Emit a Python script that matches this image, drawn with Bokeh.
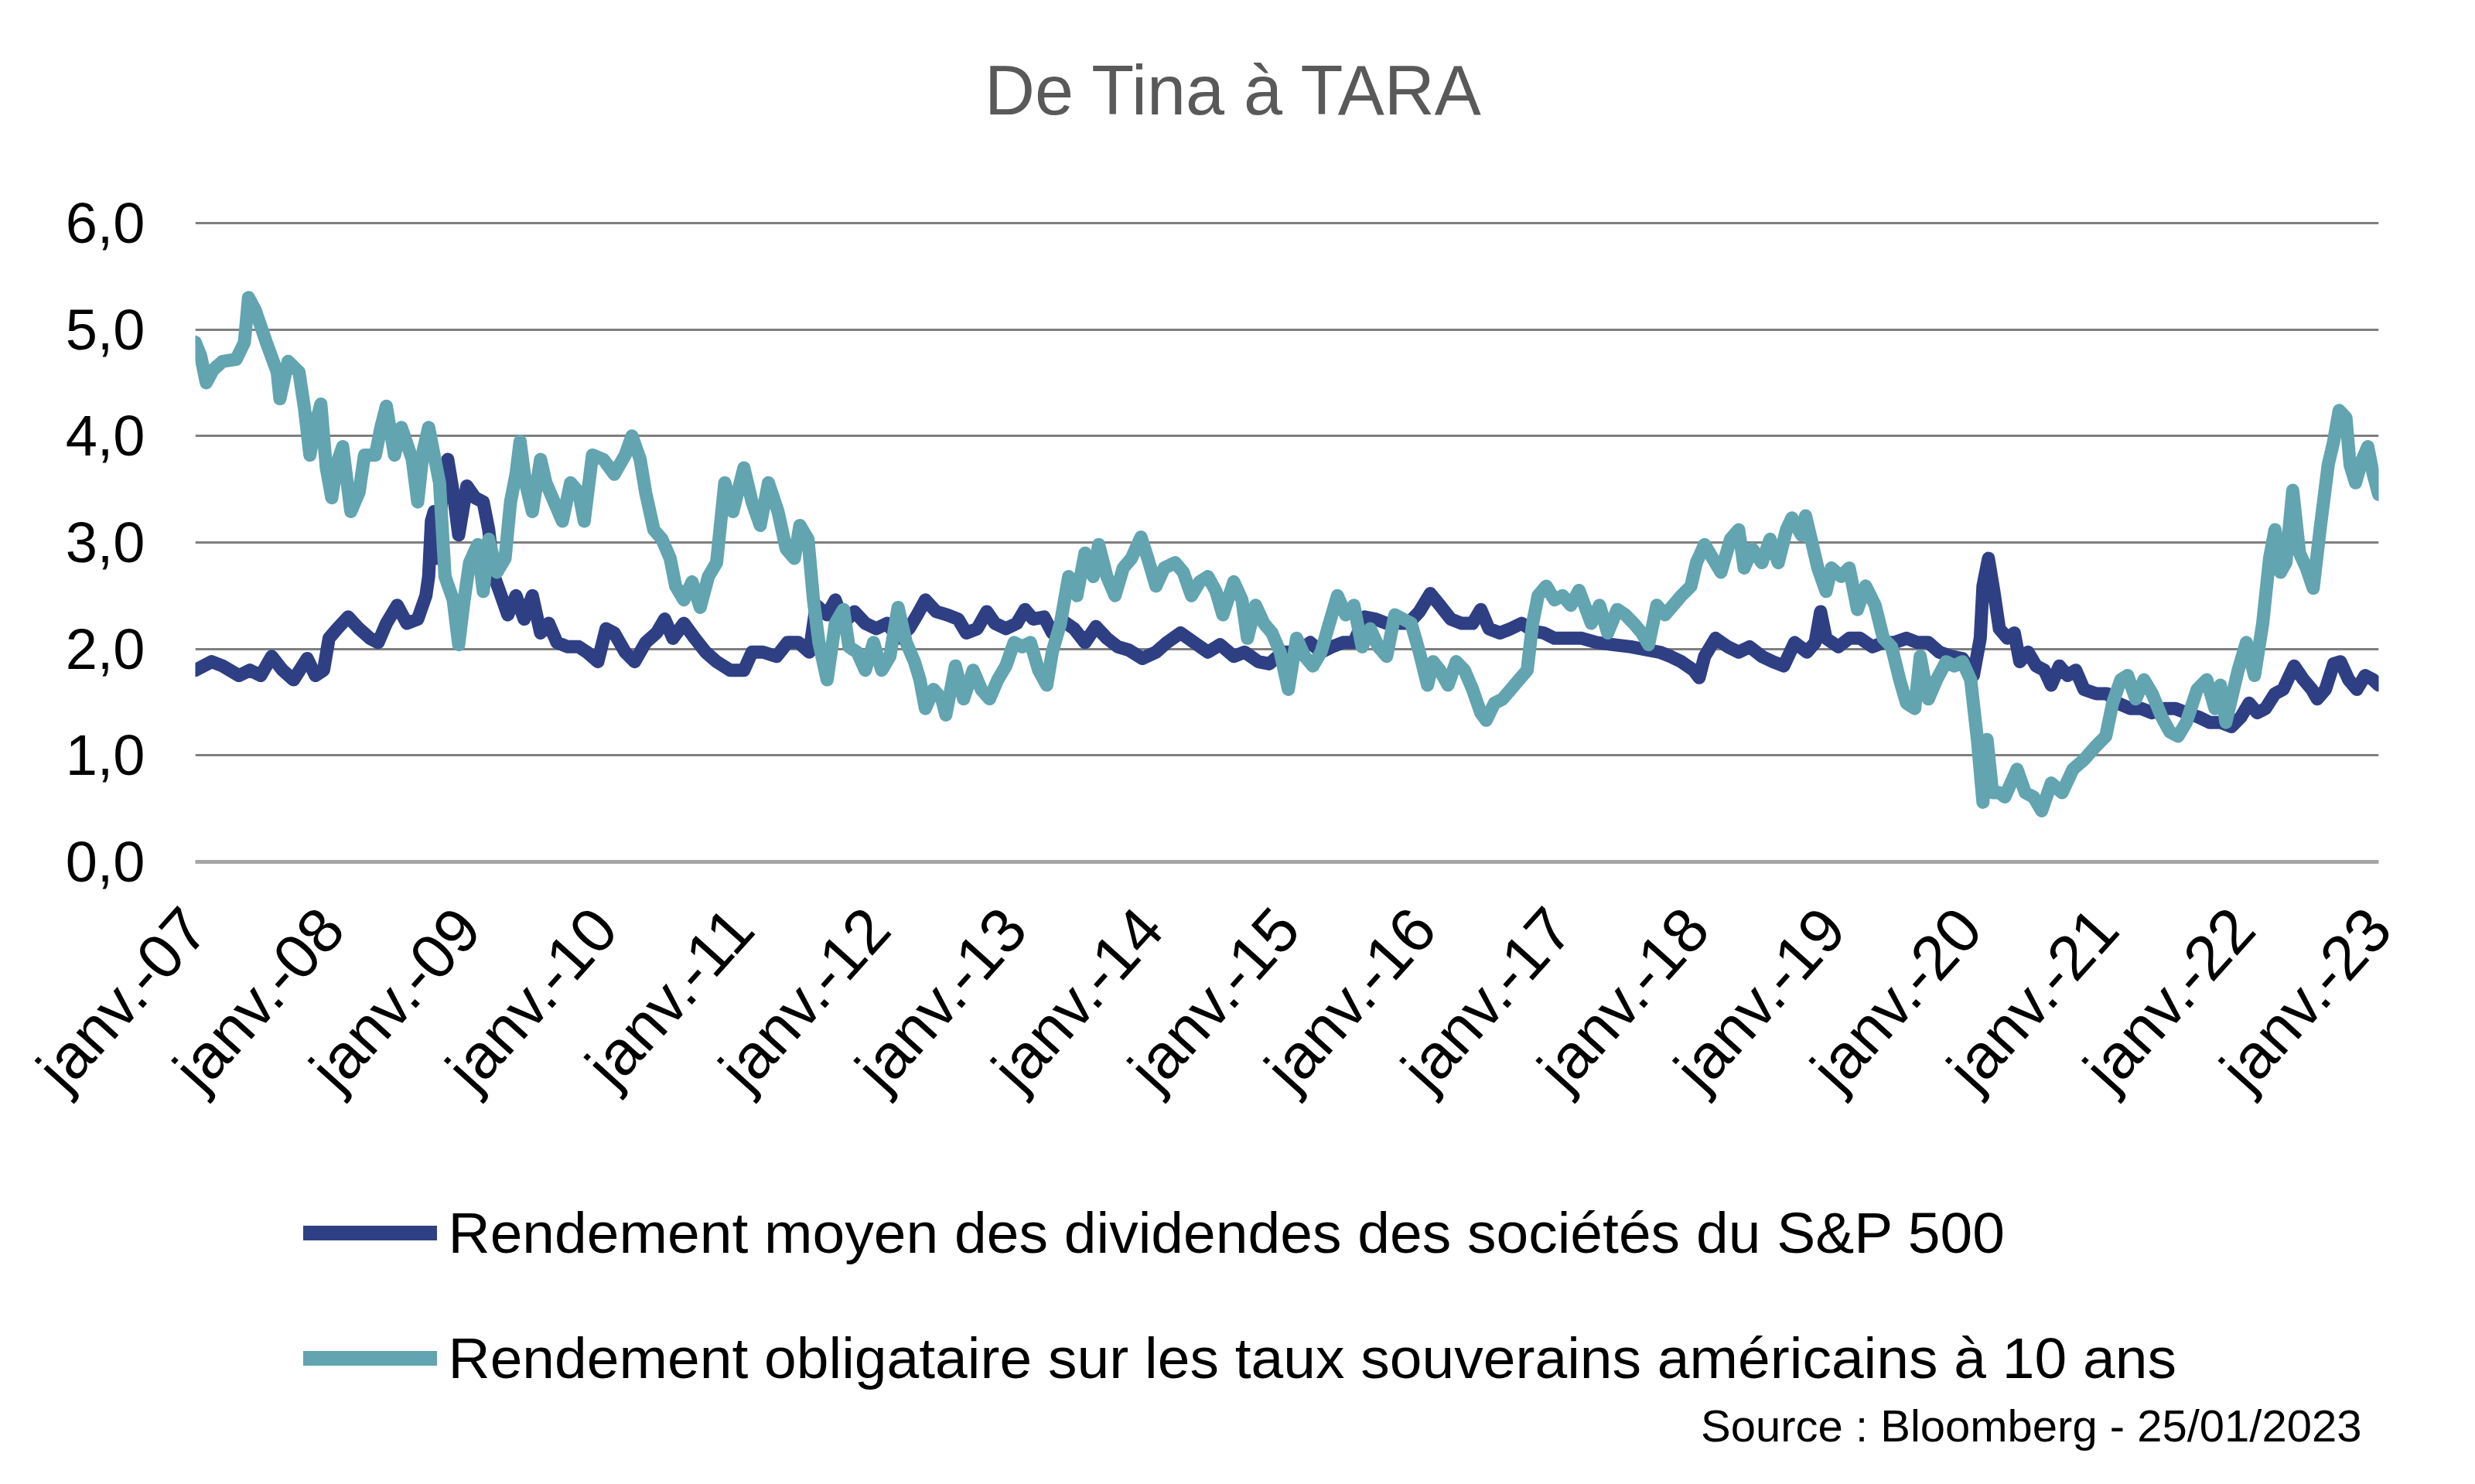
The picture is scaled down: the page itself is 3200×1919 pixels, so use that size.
import math
from bokeh.plotting import figure
from bokeh.layouts import column
from bokeh.models import (Range1d, FixedTicker, Label, Legend, LegendItem)
from bokeh.embed import file_html
from bokeh.resources import INLINE

# ---------------- data ----------------
title_text = "De Tina à TARA"
source_text = "Source : Bloomberg - 25/01/2023"
series_names = ["Rendement moyen des dividendes des sociétés du S&P 500",
                "Rendement obligataire sur les taux souverains américains à 10 ans"]
series_colors = ["#2F3F84", "#62A4B0"]

x_ticks = list(range(2007, 2024))
x_tick_labels = ["janv.-%02d" % (y % 100) for y in x_ticks]
y_ticks = [0, 1, 2, 3, 4, 5, 6]
y_tick_labels = ["0,0", "1,0", "2,0", "3,0", "4,0", "5,0", "6,0"]

# S&P 500 dividend yield (decimal years, %)
div_t = [2007.00, 2007.12, 2007.20, 2007.32, 2007.40, 2007.48, 2007.56, 2007.64, 2007.72, 2007.82,
         2007.88, 2007.94, 2007.98, 2008.04, 2008.12, 2008.20, 2008.28, 2008.34, 2008.40, 2008.48,
         2008.55, 2008.63, 2008.69, 2008.71, 2008.73, 2008.75, 2008.77, 2008.81, 2008.85, 2008.89,
         2008.93, 2008.99, 2009.05, 2009.11, 2009.15, 2009.19, 2009.23, 2009.29, 2009.35, 2009.41,
         2009.47, 2009.53, 2009.59, 2009.65, 2009.73, 2009.81, 2009.87, 2009.95, 2010.01, 2010.07,
         2010.15, 2010.22, 2010.30, 2010.38, 2010.44, 2010.50, 2010.58, 2010.66, 2010.74, 2010.82,
         2010.92, 2011.02, 2011.08, 2011.16, 2011.26, 2011.34, 2011.42, 2011.50, 2011.55, 2011.63,
         2011.69, 2011.75, 2011.83, 2011.91, 2011.99, 2012.07, 2012.15, 2012.23, 2012.29, 2012.35,
         2012.43, 2012.51, 2012.59, 2012.65, 2012.73, 2012.80, 2012.86, 2012.94, 2013.02, 2013.08,
         2013.14, 2013.22, 2013.28, 2013.36, 2013.44, 2013.52, 2013.60, 2013.68, 2013.76, 2013.84,
         2013.94, 2014.04, 2014.12, 2014.22, 2014.32, 2014.42, 2014.51, 2014.61, 2014.69, 2014.79,
         2014.87, 2014.97, 2015.07, 2015.17, 2015.25, 2015.33, 2015.41, 2015.49, 2015.57, 2015.65,
         2015.73, 2015.81, 2015.89, 2015.97, 2016.05, 2016.12, 2016.20, 2016.28, 2016.36, 2016.42,
         2016.48, 2016.56, 2016.64, 2016.72, 2016.80, 2016.88, 2016.96, 2017.04, 2017.16, 2017.27,
         2017.39, 2017.52, 2017.64, 2017.73, 2017.81, 2017.89, 2017.98, 2018.02, 2018.06, 2018.14,
         2018.23, 2018.31, 2018.39, 2018.48, 2018.56, 2018.64, 2018.72, 2018.81, 2018.87, 2018.91,
         2018.95, 2019.04, 2019.12, 2019.20, 2019.29, 2019.37, 2019.45, 2019.54, 2019.62, 2019.70,
         2019.78, 2019.87, 2019.95, 2020.03, 2020.08, 2020.10, 2020.14, 2020.18, 2020.22, 2020.28,
         2020.33, 2020.37, 2020.43, 2020.49, 2020.55, 2020.60, 2020.66, 2020.72, 2020.78, 2020.84,
         2020.93, 2021.01, 2021.09, 2021.18, 2021.26, 2021.34, 2021.43, 2021.51, 2021.59, 2021.68,
         2021.76, 2021.84, 2021.92, 2021.99, 2022.05, 2022.11, 2022.17, 2022.24, 2022.30, 2022.38,
         2022.45, 2022.51, 2022.55, 2022.61, 2022.67, 2022.72, 2022.78, 2022.84, 2022.90, 2022.96,
         2023.00]
div_v = [1.80, 1.88, 1.84, 1.75, 1.80, 1.75, 1.93, 1.80, 1.71, 1.91,
         1.75, 1.80, 2.10, 2.19, 2.30, 2.19, 2.10, 2.06, 2.24, 2.41,
         2.24, 2.28, 2.50, 2.68, 3.20, 3.29, 2.85, 3.47, 3.78, 3.47,
         3.07, 3.53, 3.42, 3.38, 3.12, 2.68, 2.54, 2.32, 2.50, 2.28,
         2.50, 2.15, 2.24, 2.06, 2.02, 2.02, 1.97, 1.88, 2.19, 2.15,
         1.97, 1.88, 2.06, 2.15, 2.28, 2.10, 2.24, 2.10, 1.97, 1.88,
         1.80, 1.80, 1.97, 1.97, 1.93, 2.06, 2.06, 1.97, 2.41, 2.32,
         2.46, 2.24, 2.35, 2.24, 2.19, 2.24, 2.10, 2.19, 2.32, 2.46,
         2.35, 2.32, 2.28, 2.15, 2.19, 2.35, 2.24, 2.19, 2.24, 2.37,
         2.28, 2.30, 2.15, 2.26, 2.19, 2.06, 2.21, 2.10, 2.02, 1.99,
         1.91, 1.97, 2.06, 2.15, 2.06, 1.97, 2.04, 1.93, 1.97, 1.88,
         1.86, 1.97, 1.97, 2.06, 1.97, 2.02, 2.06, 2.06, 2.30, 2.28,
         2.24, 2.24, 2.24, 2.35, 2.52, 2.41, 2.28, 2.24, 2.24, 2.37,
         2.19, 2.15, 2.19, 2.24, 2.17, 2.15, 2.10, 2.10, 2.10, 2.06,
         2.04, 2.02, 1.99, 1.97, 1.93, 1.88, 1.80, 1.73, 1.93, 2.10,
         2.02, 1.97, 2.02, 1.93, 1.88, 1.84, 2.06, 1.97, 2.06, 2.35,
         2.10, 2.02, 2.10, 2.10, 2.02, 2.06, 2.06, 2.10, 2.06, 2.06,
         1.97, 1.93, 1.91, 1.75, 2.10, 2.59, 2.85, 2.54, 2.19, 2.10,
         2.15, 1.88, 1.97, 1.84, 1.80, 1.66, 1.84, 1.75, 1.80, 1.62,
         1.58, 1.58, 1.49, 1.44, 1.44, 1.40, 1.44, 1.44, 1.40, 1.36,
         1.31, 1.31, 1.27, 1.36, 1.49, 1.40, 1.44, 1.58, 1.62, 1.84,
         1.71, 1.62, 1.53, 1.62, 1.86, 1.88, 1.71, 1.62, 1.75, 1.71,
         1.66]

# US 10-year Treasury yield (decimal years, %)
ust_t = [2007.00, 2007.04, 2007.08, 2007.13, 2007.20, 2007.30, 2007.36, 2007.39, 2007.44, 2007.52,
         2007.60, 2007.62, 2007.68, 2007.76, 2007.80, 2007.84, 2007.88, 2007.92, 2007.96, 2008.00,
         2008.04, 2008.08, 2008.14, 2008.20, 2008.24, 2008.32, 2008.36, 2008.40, 2008.46, 2008.51,
         2008.59, 2008.63, 2008.67, 2008.71, 2008.75, 2008.79, 2008.83, 2008.89, 2008.93, 2008.97,
         2009.01, 2009.07, 2009.11, 2009.15, 2009.21, 2009.27, 2009.31, 2009.35, 2009.38, 2009.42,
         2009.47, 2009.53, 2009.57, 2009.63, 2009.69, 2009.75, 2009.81, 2009.85, 2009.91, 2009.99,
         2010.07, 2010.15, 2010.20, 2010.26, 2010.30, 2010.36, 2010.42, 2010.48, 2010.52, 2010.58,
         2010.64, 2010.70, 2010.76, 2010.82, 2010.88, 2010.94, 2011.02, 2011.08, 2011.14, 2011.20,
         2011.27, 2011.33, 2011.39, 2011.43, 2011.49, 2011.53, 2011.57, 2011.63, 2011.69, 2011.75,
         2011.79, 2011.85, 2011.91, 2011.97, 2012.03, 2012.09, 2012.15, 2012.21, 2012.27, 2012.31,
         2012.35, 2012.41, 2012.47, 2012.50, 2012.57, 2012.63, 2012.70, 2012.76, 2012.82, 2012.88,
         2012.94, 2013.00, 2013.06, 2013.12, 2013.18, 2013.24, 2013.28, 2013.34, 2013.40, 2013.46,
         2013.52, 2013.58, 2013.62, 2013.68, 2013.74, 2013.80, 2013.86, 2013.93, 2013.98, 2014.04,
         2014.10, 2014.18, 2014.24, 2014.30, 2014.36, 2014.42, 2014.48, 2014.53, 2014.61, 2014.67,
         2014.71, 2014.77, 2014.83, 2014.89, 2014.95, 2015.01, 2015.07, 2015.13, 2015.19, 2015.25,
         2015.31, 2015.37, 2015.43, 2015.49, 2015.55, 2015.61, 2015.67, 2015.73, 2015.79, 2015.85,
         2015.91, 2015.97, 2016.03, 2016.07, 2016.12, 2016.18, 2016.24, 2016.30, 2016.36, 2016.42,
         2016.46, 2016.52, 2016.58, 2016.64, 2016.70, 2016.76, 2016.80, 2016.84, 2016.90, 2016.96,
         2017.02, 2017.08, 2017.14, 2017.23, 2017.29, 2017.35, 2017.42, 2017.48, 2017.54, 2017.60,
         2017.65, 2017.71, 2017.77, 2017.83, 2017.89, 2017.96, 2018.00, 2018.06, 2018.12, 2018.18,
         2018.25, 2018.31, 2018.35, 2018.41, 2018.48, 2018.54, 2018.60, 2018.66, 2018.70, 2018.77,
         2018.80, 2018.85, 2018.89, 2018.95, 2018.99, 2019.06, 2019.12, 2019.18, 2019.24, 2019.31,
         2019.37, 2019.43, 2019.49, 2019.54, 2019.60, 2019.64, 2019.70, 2019.76, 2019.83, 2019.89,
         2019.95, 2020.01, 2020.06, 2020.10, 2020.13, 2020.17, 2020.22, 2020.26, 2020.35, 2020.41,
         2020.47, 2020.53, 2020.60, 2020.68, 2020.76, 2020.84, 2020.93, 2021.00, 2021.05, 2021.11,
         2021.16, 2021.22, 2021.28, 2021.34, 2021.41, 2021.47, 2021.53, 2021.59, 2021.67, 2021.74,
         2021.80, 2021.84, 2021.88, 2021.97, 2022.03, 2022.09, 2022.15, 2022.20, 2022.24, 2022.28,
         2022.32, 2022.37, 2022.42, 2022.47, 2022.52, 2022.57, 2022.63, 2022.67, 2022.71, 2022.76,
         2022.79, 2022.83, 2022.88, 2022.92, 2022.96, 2023.00]
ust_v = [4.88, 4.75, 4.50, 4.62, 4.70, 4.72, 4.88, 5.30, 5.18, 4.88,
         4.60, 4.35, 4.70, 4.60, 4.26, 3.82, 4.10, 4.30, 3.70, 3.42,
         3.75, 3.90, 3.29, 3.47, 3.82, 3.82, 4.08, 4.28, 3.82, 4.08,
         3.78, 3.38, 3.86, 4.08, 3.82, 3.56, 2.68, 2.46, 2.04, 2.46,
         2.81, 2.98, 2.54, 3.03, 2.72, 2.85, 3.38, 3.64, 3.95, 3.56,
         3.29, 3.78, 3.56, 3.38, 3.20, 3.56, 3.47, 3.20, 3.82, 3.78,
         3.64, 3.82, 4.00, 3.78, 3.47, 3.12, 3.03, 2.85, 2.59, 2.46,
         2.63, 2.39, 2.68, 2.81, 3.56, 3.29, 3.70, 3.38, 3.16, 3.56,
         3.29, 2.94, 2.85, 3.16, 3.03, 2.46, 2.06, 1.71, 2.24, 2.37,
         2.02, 1.97, 1.80, 2.06, 1.80, 1.93, 2.39, 2.06, 1.88, 1.71,
         1.44, 1.62, 1.53, 1.38, 1.84, 1.53, 1.80, 1.62, 1.53, 1.71,
         1.84, 2.06, 2.02, 2.06, 1.80, 1.66, 1.97, 2.24, 2.68, 2.50,
         2.90, 2.68, 2.98, 2.68, 2.50, 2.76, 2.85, 3.05, 2.85, 2.59,
         2.76, 2.81, 2.72, 2.50, 2.63, 2.68, 2.54, 2.32, 2.63, 2.46,
         2.10, 2.41, 2.24, 2.15, 1.97, 1.62, 2.10, 1.93, 1.84, 1.97,
         2.24, 2.50, 2.32, 2.41, 2.02, 2.19, 2.02, 1.93, 2.32, 2.28,
         2.24, 1.97, 1.66, 1.88, 1.80, 1.66, 1.88, 1.80, 1.62, 1.40,
         1.33, 1.49, 1.53, 1.62, 1.71, 1.80, 2.24, 2.50, 2.59, 2.46,
         2.50, 2.41, 2.55, 2.24, 2.41, 2.15, 2.37, 2.32, 2.24, 2.15,
         2.04, 2.41, 2.32, 2.41, 2.50, 2.59, 2.81, 2.98, 2.85, 2.72,
         3.03, 3.12, 2.76, 2.94, 2.81, 3.03, 2.81, 3.12, 3.23, 3.07,
         3.25, 2.98, 2.76, 2.54, 2.76, 2.68, 2.76, 2.37, 2.59, 2.41,
         2.10, 2.02, 1.71, 1.49, 1.44, 1.93, 1.53, 1.71, 1.88, 1.84,
         1.88, 1.71, 1.14, 0.56, 1.15, 0.65, 0.65, 0.61, 0.87, 0.65,
         0.61, 0.48, 0.74, 0.65, 0.87, 0.96, 1.09, 1.18, 1.49, 1.71,
         1.75, 1.53, 1.71, 1.58, 1.36, 1.22, 1.18, 1.31, 1.62, 1.71,
         1.44, 1.66, 1.31, 1.80, 2.06, 1.75, 2.24, 2.85, 3.12, 2.72,
         2.81, 3.49, 2.90, 2.76, 2.57, 3.12, 3.73, 3.95, 4.24, 4.17,
         3.73, 3.56, 3.78, 3.90, 3.64, 3.45]

FONT = "Liberation Sans"
W = 3184
LEFT, RIGHT = 252, 109          # borders shared by the three stacked figures


def strip(height):
    """A text-only strip whose frame is addressed in figure pixels."""
    s = figure(width=W, height=height, output_backend="svg", toolbar_location=None,
               title=None, x_range=Range1d(LEFT, W - RIGHT), y_range=Range1d(0, height),
               min_border_left=LEFT, min_border_right=RIGHT, min_border_top=0,
               min_border_bottom=0, x_axis_type=None, y_axis_type=None,
               outline_line_color=None, background_fill_color="white",
               border_fill_color="white")
    return s


# ---------------- title strip ----------------
p0 = strip(208)
p0.add_layout(Label(x=1595, y=92, text=title_text, text_align="center",
                    text_baseline="alphabetic", text_font=FONT, text_font_size="90px",
                    text_color="#595959"))

# ---------------- main chart ----------------
p = figure(width=W, height=1292, output_backend="svg", toolbar_location=None, title=None,
           x_range=Range1d(2007, 2023), y_range=Range1d(0, 6.05),
           min_border_left=LEFT, min_border_right=RIGHT, min_border_top=73, min_border_bottom=386,
           background_fill_color="white", border_fill_color="white", outline_line_color=None)

p.line(div_t, div_v, line_color=series_colors[0], line_width=17, line_join="round", line_cap="round")
p.line(ust_t, ust_v, line_color=series_colors[1], line_width=17, line_join="round", line_cap="round")

p.xgrid.visible = False
p.ygrid.ticker = FixedTicker(ticks=[1, 2, 3, 4, 5, 6])
p.ygrid.grid_line_color = "#7f7f7f"
p.ygrid.grid_line_width = 3

ya = p.yaxis[0]
ya.ticker = FixedTicker(ticks=y_ticks)
ya.major_label_overrides = {t: l for t, l in zip(y_ticks, y_tick_labels)}
ya.axis_line_color = None
ya.major_tick_line_color = None
ya.minor_tick_line_color = None
ya.major_tick_out = 0
ya.major_tick_in = 0
ya.major_label_standoff = 65
ya.major_label_text_font = FONT
ya.major_label_text_font_size = "74px"
ya.major_label_text_color = "black"

xa = p.xaxis[0]
xa.ticker = FixedTicker(ticks=x_ticks)
xa.major_label_overrides = {t: l for t, l in zip(x_ticks, x_tick_labels)}
xa.axis_line_color = "#a6a6a6"
xa.axis_line_width = 5
xa.major_tick_line_color = None
xa.minor_tick_line_color = None
xa.major_tick_out = 0
xa.major_tick_in = 0
xa.major_label_orientation = math.radians(48)
xa.major_label_standoff = 72
xa.major_label_text_font = FONT
xa.major_label_text_font_size = "81px"
xa.major_label_text_color = "black"

# ---------------- legend + source strip ----------------
p2 = strip(400)
# legend-only renderers: a single point outside the strip's frame, so only the legend swatch shows
r1 = p2.line([-1000], [-1000], line_color=series_colors[0], line_width=19, line_cap="round")
r2 = p2.line([-1000], [-1000], line_color=series_colors[1], line_width=19, line_cap="round")
legend = Legend(items=[LegendItem(label=series_names[0], renderers=[r1]),
                       LegendItem(label=series_names[1], renderers=[r2])],
                location=(139.5, 99.5), orientation="vertical",
                glyph_width=173, glyph_height=90, label_height=90, label_standoff=15,
                spacing=72, padding=0, margin=0, border_line_color=None,
                background_fill_alpha=0, label_text_font=FONT,
                label_text_font_size="75px", label_text_color="black")
p2.add_layout(legend)
p2.add_layout(Label(x=3053, y=57, text=source_text, text_align="right",
                    text_baseline="alphabetic", text_font=FONT, text_font_size="58px",
                    text_color="black"))

layout = column(p0, p, p2, spacing=0)
open("out.html", "w").write(file_html(layout, INLINE))
